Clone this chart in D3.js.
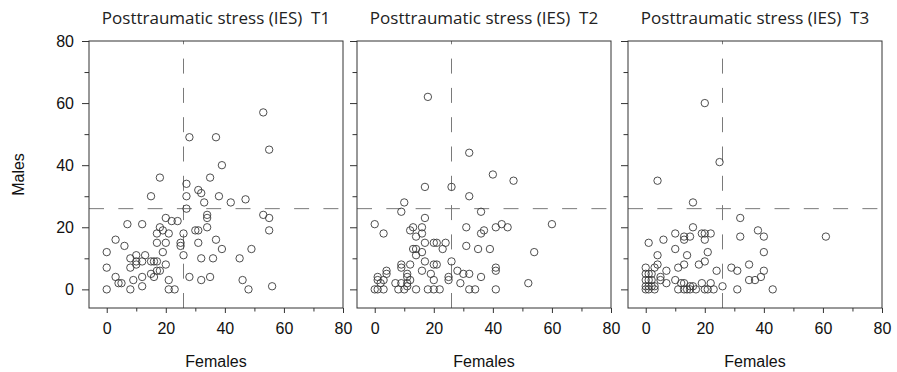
<!DOCTYPE html>
<html>
<head>
<meta charset="utf-8">
<script src="https://cdn.jsdelivr.net/npm/d3@7"></script>
<style>
  body { margin: 0; background: #fff; }
  svg text { font-family: "Liberation Sans", Arial, sans-serif; }
</style>
</head>
<body>
<div id="chart"></div>
<script>
// panel titles
var panelTitles = ['Posttraumatic stress (IES)  T1', 'Posttraumatic stress (IES)  T2', 'Posttraumatic stress (IES)  T3'];

// [females, males] scores per couple
var pointsT1 = [[0,0],[0,7],[0,12],[3,4],[3,16],[4,2],[5,2],[6,14],[7,21],[8,0],[8,7],[8,10],[9,3],[10,8],[10,9],[10,11],
  [12,1],[12,4],[12,9],[12,21],[13,11],[15,5],[15,9],[15,30],[16,4],[16,9],[17,6],[17,9],[17,15],[17,18],[18,6],[18,20],
  [18,36],[19,12],[19,19],[20,8],[20,15],[20,23],[21,0],[21,3],[21,18],[22,22],[23,0],[24,22],[25,14],[25,15],[26,11],
  [26,18],[27,26],[27,30],[27,34],[28,4],[28,49],[30,19],[31,15],[31,19],[31,32],[32,3],[32,10],[32,31],[33,28],[34,20],
  [34,23],[34,24],[35,4],[35,36],[36,10],[37,16],[37,49],[38,30],[39,13],[39,40],[42,28],[45,10],[46,3],[47,29],[48,0],
  [49,13],[53,24],[53,57],[55,19],[55,23],[55,45],[56,1]];

var pointsT2 = [[0,0],[0,21],[1,0],[1,3],[1,4],[2,2],[3,0],[3,3],[3,18],[4,5],[4,6],[7,2],[8,0],[9,2],[9,7],[9,8],[9,25],
  [10,0],[10,28],[11,1],[11,2],[11,4],[11,5],[12,3],[12,8],[12,19],[13,13],[13,20],[14,0],[14,11],[14,13],[14,17],[16,6],
  [16,12],[16,18],[16,20],[17,9],[17,15],[17,23],[17,33],[18,0],[18,62],[19,5],[20,0],[20,3],[20,8],[20,15],[21,8],[21,15],
  [22,0],[23,13],[24,15],[25,3],[25,4],[26,9],[26,33],[28,6],[29,2],[30,5],[31,14],[31,20],[32,0],[32,5],[32,30],[32,44],
  [34,0],[35,13],[36,4],[36,18],[36,25],[37,19],[39,13],[40,37],[41,0],[41,6],[41,7],[41,20],[43,21],[45,20],[47,35],
  [52,2],[54,12],[60,21]];

var pointsT3 = [[0,0],[0,1],[0,3],[0,5],[0,7],[1,0],[1,1],[1,3],[1,5],[1,15],[2,1],[2,3],[2,5],[3,0],[3,1],[3,7],[4,8],
  [4,11],[4,35],[5,3],[5,4],[6,16],[7,2],[7,6],[10,3],[10,13],[10,18],[11,0],[11,7],[12,2],[13,0],[13,2],[13,8],[13,16],
  [13,17],[14,0],[14,11],[15,0],[15,1],[15,17],[16,1],[16,20],[16,28],[17,0],[18,8],[19,2],[19,18],[20,0],[20,9],[20,16],
  [20,18],[20,60],[21,0],[21,12],[22,2],[22,18],[23,0],[24,6],[25,41],[26,1],[29,7],[31,0],[31,6],[32,17],[32,23],[35,3],
  [35,8],[37,3],[38,19],[39,4],[40,6],[40,12],[40,17],[43,0],[61,17]];

var panelPoints = [pointsT1, pointsT2, pointsT3];

// axis ticks and the clinical cut-off
var majorTicks = [0, 20, 40, 60, 80];
var minorTicks = [10, 30, 50, 70];
var cutoff = 26;

var width = 897, height = 372;
var panelLeft = [89, 357, 628];
var panelWidth = 254;
var plotTop = 41, plotBottom = 308;

var svg = d3.select('#chart').append('svg')
    .attr('width', width)
    .attr('height', height);

var y = d3.scaleLinear().domain([-6, 80]).range([plotBottom, plotTop]);

panelPoints.forEach(function(points, i) {
  var x = d3.scaleLinear().domain([-6, 80]).range([panelLeft[i], panelLeft[i] + panelWidth]);
  var g = svg.append('g');

  // title
  g.append('text')
    .attr('x', panelLeft[i] + panelWidth / 2)
    .attr('y', 24)
    .attr('text-anchor', 'middle')
    .style('white-space', 'pre')
    .style('font-family', '"Open Sans", "Noto Sans", sans-serif')
    .style('font-size', '17px')
    .style('fill', '#222')
    .text(panelTitles[i]);

  // cut-off lines (drawn from the lower/left end like R's abline)
  g.append('line')
    .attr('x1', x(-6)).attr('x2', x(80))
    .attr('y1', y(cutoff)).attr('y2', y(cutoff))
    .style('stroke', '#7a7a7a').style('stroke-width', 1)
    .style('stroke-dasharray', '15,14.3');
  g.append('line')
    .attr('x1', x(cutoff)).attr('x2', x(cutoff))
    .attr('y1', y(-6)).attr('y2', y(80))
    .style('stroke', '#7a7a7a').style('stroke-width', 1)
    .style('stroke-dasharray', '15,14.3');

  g.selectAll('circle').data(points).enter()
    .append('circle')
      .attr('cx', function(d) { return x(d[0]); })
      .attr('cy', function(d) { return y(d[1]); })
      .attr('r', 3.7)
      .style('fill', 'none')
      .style('stroke', '#3a3a3a')
      .style('stroke-width', 0.9);

  // y axis
  var yMajor = d3.axisLeft(y).tickValues(majorTicks).tickSize(7).tickPadding(8)
    .tickFormat(i === 0 ? d3.format('d') : function() { return ''; });
  var yMinor = d3.axisLeft(y).tickValues(minorTicks).tickSize(4.5).tickFormat(function() { return ''; });
  g.append('g').attr('transform', 'translate(' + panelLeft[i] + ',0)').call(yMajor);
  g.append('g').attr('transform', 'translate(' + panelLeft[i] + ',0)').call(yMinor);

  // x axis
  var xMajor = d3.axisBottom(x).tickValues(majorTicks).tickSize(5).tickPadding(10).tickFormat(d3.format('d'));
  var xMinor = d3.axisBottom(x).tickValues(minorTicks).tickSize(3.5).tickFormat(function() { return ''; });
  g.append('g').attr('transform', 'translate(0,' + plotBottom + ')').call(xMajor);
  g.append('g').attr('transform', 'translate(0,' + plotBottom + ')').call(xMinor);

  g.selectAll('.domain').remove();
  g.selectAll('.tick line').style('stroke', '#333');
  g.selectAll('.tick text').style('font-size', '16px').style('fill', '#111')
    .style('font-family', '"Liberation Sans", Arial, sans-serif');

  // frame
  g.append('rect')
    .attr('x', panelLeft[i]).attr('y', plotTop)
    .attr('width', panelWidth).attr('height', plotBottom - plotTop)
    .style('fill', 'none').style('stroke', '#333').style('stroke-width', 1);

  g.append('text')
    .attr('x', panelLeft[i] + panelWidth / 2)
    .attr('y', 366.5)
    .attr('text-anchor', 'middle')
    .style('font-size', '16px')
    .style('fill', '#111')
    .text('Females');
});

svg.append('text')
  .attr('transform', 'translate(24,' + (plotTop + plotBottom) / 2 + ') rotate(-90)')
  .attr('text-anchor', 'middle')
  .style('font-size', '16px')
  .style('fill', '#111')
  .text('Males');
</script>
</body>
</html>
